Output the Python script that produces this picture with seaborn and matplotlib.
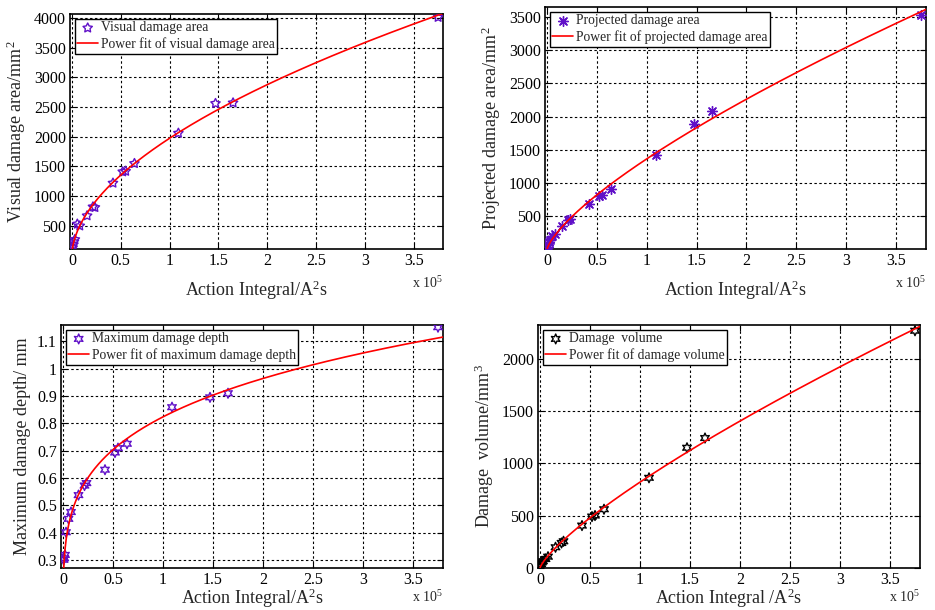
import numpy as np
import pandas as pd
import matplotlib
matplotlib.use("Agg")
import matplotlib.pyplot as plt
import seaborn as sns
from matplotlib.ticker import FixedLocator, FuncFormatter

# ---------------- data (action integral in units of 1e5 A^2 s) ----------------
action_integral = [0.006, 0.012, 0.02, 0.03, 0.055, 0.08, 0.155, 0.215, 0.235,
                   0.42, 0.52, 0.55, 0.64, 1.09, 1.47, 1.65, 3.75]
visual_area = [130, 180, 230, 270, 530, 500, 670, 820, 810,
               1220, 1410, 1420, 1550, 2060, 2560, 2570, 4010]
projected_area = [40, 75, 110, 140, 200, 240, 350, 450, 460,
                  690, 800, 820, 920, 1430, 1890, 2090, 3530]
max_depth = [0.300, 0.306, 0.318, 0.401, 0.450, 0.475, 0.537, 0.572, 0.581,
             0.630, 0.693, 0.709, 0.725, 0.859, 0.895, 0.910, 1.152]
damage_volume = [13, 38, 54, 65, 86, 108, 198, 239, 255,
                 405, 491, 501, 561, 861, 1148, 1241, 2265]

x_ticks = [0, 0.5, 1, 1.5, 2, 2.5, 3, 3.5]
x_tick_labels = ["0", "0.5", "1", "1.5", "2", "2.5", "3", "3.5"]

panels = [
    dict(y=visual_area, label="Visual damage area",
         fit_label="Power fit of visual damage area",
         ylabel="Visual damage area/mm$^2$", xlabel="Action Integral/A$^2$s",
         yticks=[500, 1000, 1500, 2000, 2500, 3000, 3500, 4000],
         ylim=(110, 4065), marker=(5, 1, 0), color="#6010c8", hollow=True),
    dict(y=projected_area, label="Projected damage area",
         fit_label="Power fit of projected damage area",
         ylabel="Projected damage area/mm$^2$", xlabel="Action Integral/A$^2$s",
         yticks=[500, 1000, 1500, 2000, 2500, 3000, 3500],
         ylim=(10, 3650), marker=(8, 2, 0), color="#6010c8", hollow=False),
    dict(y=max_depth, label="Maximum damage depth",
         fit_label="Power fit of maximum damage depth",
         ylabel="Maximum damage depth/ mm", xlabel="Action Integral/A$^2$s",
         yticks=[0.3, 0.4, 0.5, 0.6, 0.7, 0.8, 0.9, 1.0, 1.1],
         ylim=(0.27, 1.16), marker=(6, 1, 0), color="#6010c8", hollow=True),
    dict(y=damage_volume, label="Damage  volume",
         fit_label="Power fit of damage volume",
         ylabel="Damage  volume/mm$^3$", xlabel="Action Integral /A$^2$s",
         yticks=[0, 500, 1000, 1500, 2000],
         ylim=(0, 2320), marker=(6, 1, 0), color="#000000", hollow=True),
]

# axes rectangles in pixels: left, top, right, bottom
rects_px = [(70, 14, 443, 249), (545, 7, 926, 249),
            (61, 325, 443, 568), (538, 325, 920, 568)]
xlabel_pad = [7, 7, -1, -1]
exp_offset = [-34, -34, -29, -29]

W, H = 935, 610

sns.set_theme(style="ticks")
plt.rcParams["font.family"] = ["Liberation Serif", "DejaVu Serif"]
plt.rcParams["mathtext.fontset"] = "custom"
plt.rcParams["mathtext.rm"] = "Liberation Serif"
plt.rcParams["mathtext.it"] = "Liberation Serif:italic"

fig = plt.figure(figsize=(W / 100, H / 100), dpi=100)


def power_fit(x, y):
    x = np.asarray(x, float)
    y = np.asarray(y, float)
    best = None
    for b in np.linspace(0.05, 1.5, 2901):
        xb = x ** b
        a = np.sum(y * xb) / np.sum(xb * xb)
        err = np.sum((y - a * xb) ** 2)
        if best is None or err < best[0]:
            best = (err, a, b)
    return best[1], best[2]


def fmt(v, pos):
    s = ("%.1f" % v)
    if s.endswith(".0"):
        s = s[:-2]
    return s


for p, (l, t, r, b), lp, eo in zip(panels, rects_px, xlabel_pad, exp_offset):
    ax = fig.add_axes([l / W, (H - b) / H, (r - l) / W, (b - t) / H])
    ax.set_axisbelow(True)
    ax.grid(True, color="black", linestyle=(0, (2.2, 2.2)), linewidth=0.8)
    ax.set_xlim(-0.02, 3.8)
    ax.set_ylim(*p["ylim"])

    df = pd.DataFrame({"x": action_integral, "y": p["y"]})
    a_, b_ = power_fit(df["x"], df["y"])
    xf = np.linspace(0.0005, 3.8, 600)
    fit_df = pd.DataFrame({"x": xf, "y": a_ * xf ** b_})

    if p["hollow"]:
        sns.scatterplot(data=df, x="x", y="y", ax=ax, marker=p["marker"], s=50,
                        facecolor="none", edgecolor=p["color"], linewidth=1.0,
                        label=p["label"], zorder=3)
    else:
        sns.scatterplot(data=df, x="x", y="y", ax=ax, marker=p["marker"], s=50,
                        color=p["color"], linewidth=1.0,
                        label=p["label"], zorder=3)
    sns.lineplot(data=fit_df, x="x", y="y", ax=ax, color="#ff0000",
                 linewidth=1.2, label=p["fit_label"], zorder=4)

    ax.xaxis.set_major_locator(FixedLocator(x_ticks))
    ax.set_xticklabels(x_tick_labels)
    ax.yaxis.set_major_locator(FixedLocator(p["yticks"]))
    ax.yaxis.set_major_formatter(FuncFormatter(fmt))
    ax.tick_params(direction="in", length=4, width=0.8, top=True, right=True,
                   labelsize=11.5, colors="black", pad=3)
    for sp in ax.spines.values():
        sp.set_visible(True)
        sp.set_color("black")
        sp.set_linewidth(1.2)

    ax.set_xlabel(p["xlabel"], fontsize=13, labelpad=lp)
    ax.set_ylabel(p["ylabel"], fontsize=13, labelpad=4)
    ax.annotate(r"x 10$^5$", xy=(1, 0), xycoords="axes fraction",
                xytext=(0, eo), textcoords="offset pixels",
                ha="right", va="center", fontsize=10)

    leg = ax.legend(loc="upper left", fontsize=9.8, frameon=True,
                    fancybox=False, edgecolor="black", framealpha=1,
                    borderaxespad=0.35, handlelength=1.5, handletextpad=0.2,
                    labelspacing=0.2, borderpad=0.2)
    leg.get_frame().set_linewidth(1.0)

fig.savefig("out.png", dpi=100)
